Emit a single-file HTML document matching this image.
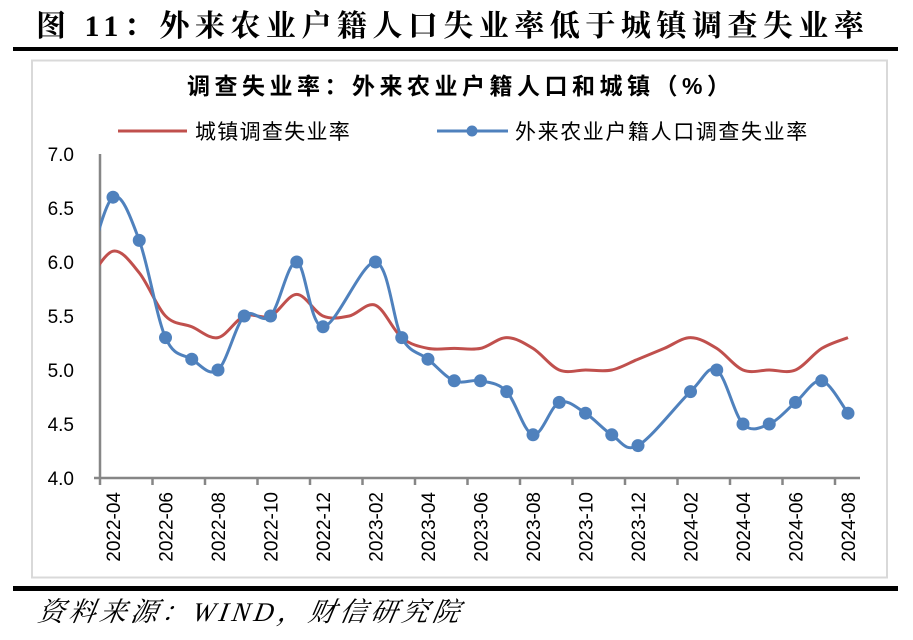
<!DOCTYPE html>
<html><head><meta charset="utf-8">
<style>
html,body{margin:0;padding:0;background:#fff;}
body{width:913px;height:640px;position:relative;overflow:hidden;}
</style></head>
<body>
<svg id="s" width="913" height="640" xmlns="http://www.w3.org/2000/svg" style="position:absolute;left:0;top:0">
<text x="36" y="36" font-family="'Liberation Serif','Noto Serif CJK SC',serif" font-size="30" font-weight="bold" fill="#000" letter-spacing="5.5">图 11：外来农业户籍人口失业率低于城镇调查失业率</text>
<rect x="13" y="47" width="885" height="4" fill="#000"/>
<rect x="32" y="60.5" width="855" height="517" fill="#fff" stroke="#d9d9d9" stroke-width="2"/>
<text x="187" y="94" font-family="'Liberation Sans','Noto Sans CJK SC',sans-serif" font-size="23" font-weight="bold" fill="#000" letter-spacing="4.5">调查失业率：外来农业户籍人口和城镇（%）</text>
<line x1="118" y1="131" x2="187" y2="131" stroke="#c0504d" stroke-width="3"/>
<text x="195" y="139" font-family="'Liberation Sans','Noto Sans CJK SC',sans-serif" font-size="21" fill="#000" letter-spacing="1.3">城镇调查失业率</text>
<line x1="437" y1="131" x2="508" y2="131" stroke="#4f81bd" stroke-width="3"/>
<circle cx="472" cy="131" r="5.5" fill="#4f81bd"/>
<text x="515" y="139" font-family="'Liberation Sans','Noto Sans CJK SC',sans-serif" font-size="21" fill="#000" letter-spacing="1.6">外来农业户籍人口调查失业率</text>
<g font-family="'Liberation Sans',sans-serif" font-size="19" fill="#000" text-anchor="end">
<text x="74" y="161">7.0</text><text x="74" y="215">6.5</text><text x="74" y="269">6.0</text>
<text x="74" y="323">5.5</text><text x="74" y="377">5.0</text><text x="74" y="431">4.5</text><text x="74" y="485">4.0</text>
</g>
<g stroke="#868686" stroke-width="2.5" fill="none" id="axes">
<line x1="100" y1="154" x2="100" y2="478"/>
<line x1="94" y1="478" x2="860" y2="478"/>
</g>
<defs><clipPath id="c"><rect x="100" y="100" width="800" height="400"/></clipPath></defs>
<g clip-path="url(#c)">
<path id="red" fill="none" stroke="#c0504d" stroke-width="3"/>
<path id="blue" fill="none" stroke="#4f81bd" stroke-width="3"/>
</g>
<g id="dots" fill="#4f81bd"></g>
<g id="labels" font-family="'Liberation Sans',sans-serif" font-size="19" fill="#000"></g>
<rect x="13" y="586" width="885" height="5" fill="#000"/>
<text x="38" y="621" font-family="'Liberation Serif','Noto Serif CJK SC',serif" font-size="27" font-style="italic" fill="#000" letter-spacing="4" transform="skewX(-10) translate(108,0)">资料来源：WIND，财信研究院</text>
</svg>
<script>
var X=function(i){return 113+26.25*i;};
var Y=function(v){return 478-(v-4)*108;};
var red=[5.8,6.1,5.9,5.5,5.4,5.3,5.5,5.5,5.7,5.5,5.5,5.6,5.3,5.2,5.2,5.2,5.3,5.2,5.0,5.0,5.0,5.1,5.2,5.3,5.2,5.0,5.0,5.0,5.2,5.3];
var blue={"-1":5.9,0:6.6,1:6.2,2:5.3,3:5.1,4:5.0,5:5.5,6:5.5,7:6.0,8:5.4,10:6.0,11:5.3,12:5.1,13:4.9,14:4.9,15:4.8,16:4.4,17:4.7,18:4.6,19:4.4,20:4.3,22:4.8,23:5.0,24:4.5,25:4.5,26:4.7,27:4.9,28:4.6};
function spline(p){
 var d="M"+p[0][0]+","+p[0][1];
 for(var i=0;i<p.length-1;i++){
  var p0=p[i-1]||p[i],p1=p[i],p2=p[i+1],p3=p[i+2]||p[i+1],t=6;
  d+=" C"+(p1[0]+(p2[0]-p0[0])/t)+","+(p1[1]+(p2[1]-p0[1])/t)+" "+(p2[0]-(p3[0]-p1[0])/t)+","+(p2[1]-(p3[1]-p1[1])/t)+" "+p2[0]+","+p2[1];
 }
 return d;
}
var rp=red.map(function(v,i){return [X(i-1),Y(v)];});
document.getElementById("red").setAttribute("d",spline(rp));
var keys=Object.keys(blue).map(Number).sort(function(a,b){return a-b;});
var bp=keys.map(function(k){return [X(k),Y(blue[k])];});
document.getElementById("blue").setAttribute("d",spline(bp));
var ns="http://www.w3.org/2000/svg",dots=document.getElementById("dots");
keys.forEach(function(k){if(k<0)return;var c=document.createElementNS(ns,"circle");c.setAttribute("cx",X(k));c.setAttribute("cy",Y(blue[k]));c.setAttribute("r",6.5);dots.appendChild(c);});
var ax=document.getElementById("axes"),lb=document.getElementById("labels");
var months=["2022-04","2022-06","2022-08","2022-10","2022-12","2023-02","2023-04","2023-06","2023-08","2023-10","2023-12","2024-02","2024-04","2024-06","2024-08"];
for(var j=0;j<15;j++){
 var tx=100+52.5*j;
 var l=document.createElementNS(ns,"line");l.setAttribute("x1",tx);l.setAttribute("x2",tx);l.setAttribute("y1",478);l.setAttribute("y2",485);ax.appendChild(l);
 var lx=X(2*j)+7;
 var t=document.createElementNS(ns,"text");t.setAttribute("x",0);t.setAttribute("y",0);t.setAttribute("text-anchor","end");
 t.setAttribute("transform","translate("+lx+",492) rotate(-90)");t.textContent=months[j];lb.appendChild(t);
}
</script>
</body></html>
